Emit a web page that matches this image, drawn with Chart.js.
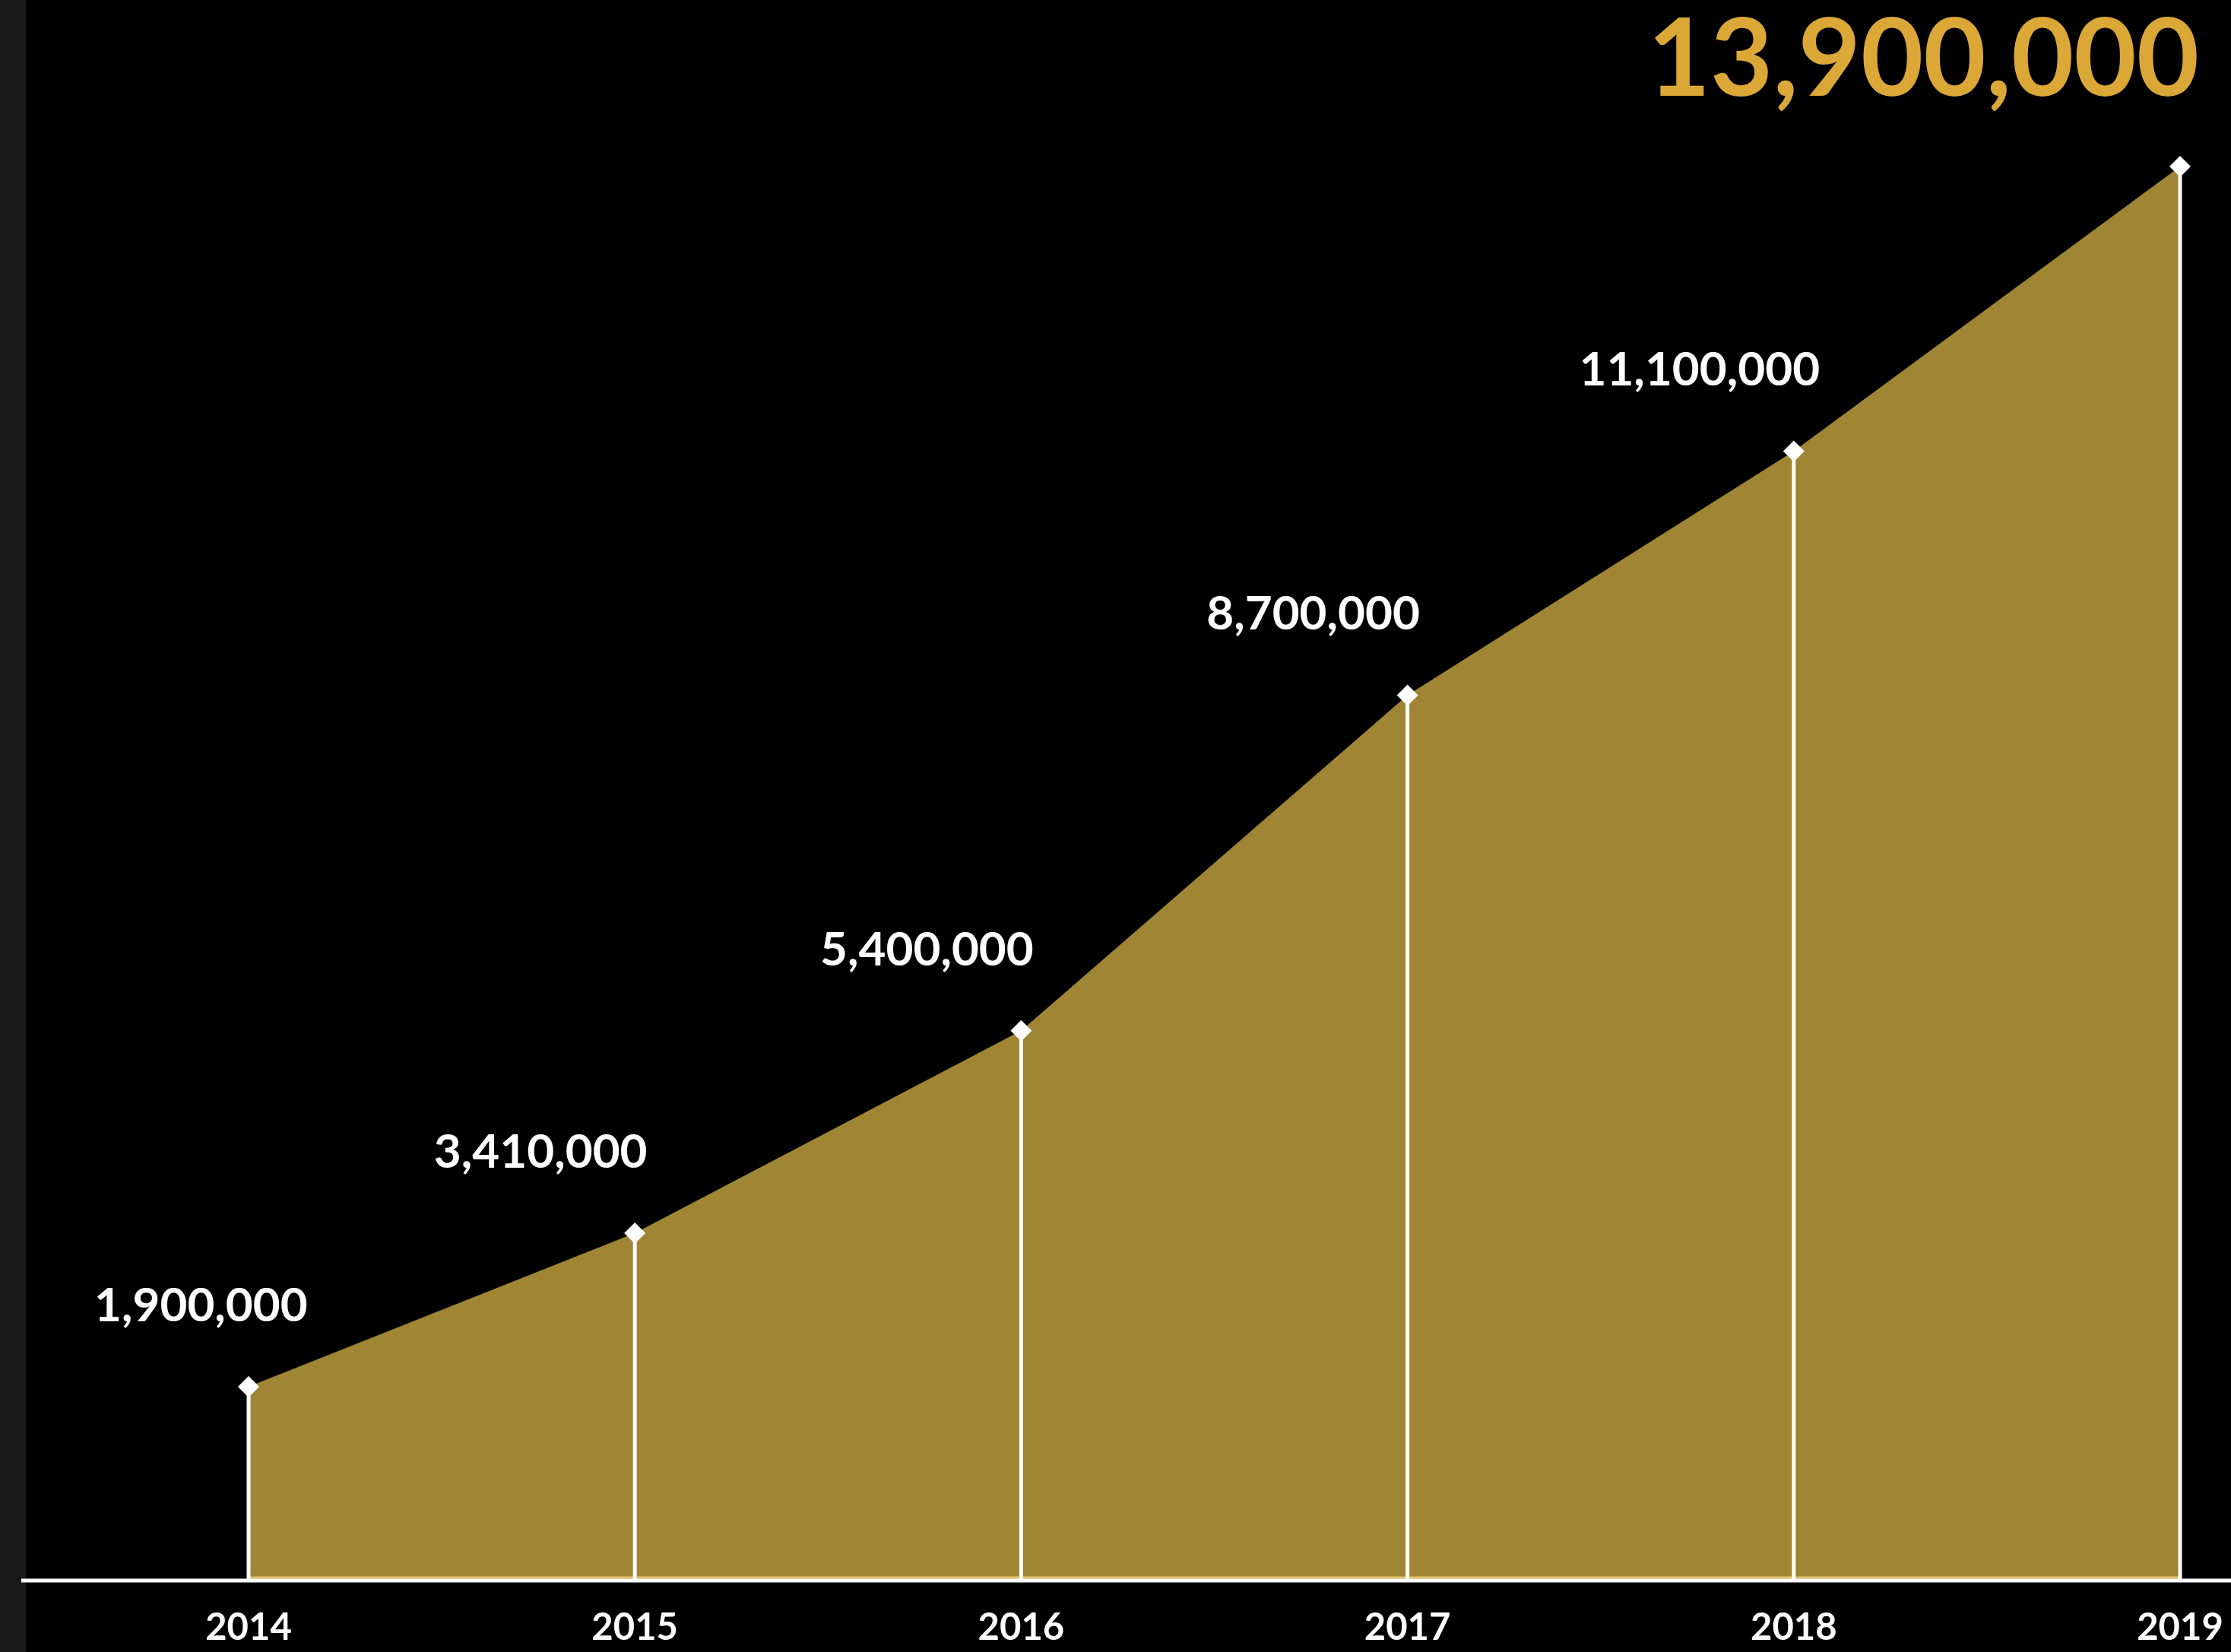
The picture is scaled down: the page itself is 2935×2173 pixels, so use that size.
<!DOCTYPE html>
<html>
<head>
<meta charset="utf-8">
<style>
  html, body { margin: 0; padding: 0; background: #000; overflow: hidden; }
  canvas { display: block; }
</style>
<script src="https://cdn.jsdelivr.net/npm/chart.js@4.4.1/dist/chart.umd.min.js"></script>
</head>
<body>
<canvas id="growth-chart" width="2935" height="2173"></canvas>
<script>
// chart data
const years = ['2014', '2015', '2016', '2017', '2018', '2019'];
const values = [1900000, 3410000, 5400000, 8700000, 11100000, 13900000];
const headline = '13,900,000';

const FONT = 'Lato, "Noto Sans", sans-serif';

// background, baseline, drop lines and value labels
const decorPlugin = {
    id: 'decor',
    beforeDraw(chart) {
        const ctx = chart.ctx;
        ctx.save();
        ctx.fillStyle = '#000';
        ctx.fillRect(0, 0, chart.width, chart.height);
        // grey strip on the left edge
        ctx.fillStyle = '#1b1b1b';
        ctx.fillRect(0, 0, 34, chart.height);
        ctx.restore();
    },
    afterDatasetsDraw(chart) {
        const ctx = chart.ctx;
        const meta = chart.getDatasetMeta(0);
        const y0 = chart.scales.y.getPixelForValue(0);

        ctx.save();
        // thin gold edge along the bottom of the fill
        ctx.strokeStyle = '#e2c36a';
        ctx.lineWidth = 3;
        ctx.beginPath();
        ctx.moveTo(meta.data[0].x, y0 - 3);
        ctx.lineTo(meta.data[meta.data.length - 1].x, y0 - 3);
        ctx.stroke();

        // baseline
        ctx.strokeStyle = '#ffffff';
        ctx.lineWidth = 5;
        ctx.beginPath();
        ctx.moveTo(28, y0 + 1);
        ctx.lineTo(chart.width, y0 + 1);
        ctx.stroke();

        // vertical drop lines
        ctx.lineWidth = 5;
        meta.data.forEach(pt => {
            ctx.beginPath();
            ctx.moveTo(pt.x, pt.y);
            ctx.lineTo(pt.x, y0);
            ctx.stroke();
        });

        // value labels (last one is the headline)
        ctx.fillStyle = '#ffffff';
        ctx.font = 'bold 62px ' + FONT;
        ctx.textAlign = 'center';
        ctx.textBaseline = 'middle';
        meta.data.forEach((pt, i) => {
            if (i === meta.data.length - 1) return;
            const txt = values[i].toLocaleString('en-US');
            const w = ctx.measureText(txt).width;
            const x = Math.max(pt.x - 124, 124 + w / 2);
            ctx.fillText(txt, x, pt.y - 106);
        });

        ctx.fillStyle = '#dba838';
        ctx.font = 'bold 142px ' + FONT;
        ctx.textAlign = 'right';
        ctx.fillText(headline, 2893, 80);
        ctx.restore();
    }
};

new Chart(document.getElementById('growth-chart'), {
    type: 'line',
    data: {
        labels: years,
        datasets: [{
            data: values,
            fill: 'origin',
            backgroundColor: '#a08535',
            borderWidth: 0,
            borderColor: 'rgba(0,0,0,0)',
            tension: 0,
            pointStyle: 'rectRot',
            pointRadius: 14,
            pointBackgroundColor: '#ffffff',
            pointBorderWidth: 0,
            clip: false
        }]
    },
    options: {
        responsive: false,
        devicePixelRatio: 1,
        animation: false,
        layout: {
            padding: { left: 327, right: 67, top: 219, bottom: 0 }
        },
        plugins: {
            legend: { display: false },
            tooltip: { enabled: false }
        },
        scales: {
            x: {
                offset: false,
                grid: { display: false, drawTicks: false },
                border: { display: false },
                afterFit(scale) {
                    scale.height = 95;
                    scale.paddingLeft = 0;
                    scale.paddingRight = 0;
                },
                ticks: {
                    color: '#ffffff',
                    padding: 34,
                    maxRotation: 0,
                    font: { family: FONT, size: 49, weight: 'bold' }
                }
            },
            y: {
                display: false,
                min: 0,
                max: 13900000
            }
        }
    },
    plugins: [decorPlugin]
});
</script>
</body>
</html>
